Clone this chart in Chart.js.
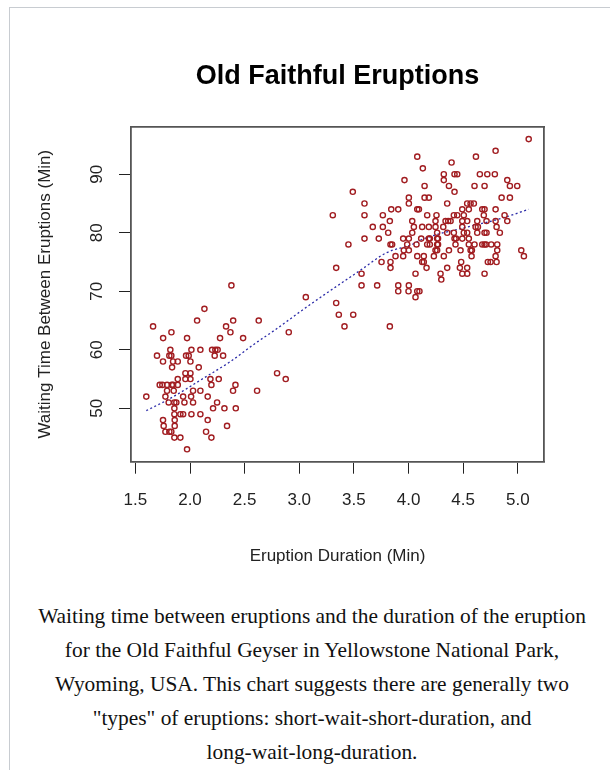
<!DOCTYPE html>
<html><head><meta charset="utf-8">
<script src="https://cdn.jsdelivr.net/npm/chart.js@4"></script>
<style>
html,body{margin:0;padding:0;background:#fff;overflow:hidden;width:610px;height:770px;}
#frame{position:absolute;left:9px;top:7px;width:700px;height:800px;border:1px solid #c8ccd1;box-sizing:border-box;}
#wrap{position:absolute;left:0;top:0;width:610px;height:590px;}
#caption{position:absolute;left:12px;width:600px;top:599px;font-family:"Liberation Serif","Times New Roman",serif;font-size:21.4px;line-height:34px;text-align:center;color:#111;}
</style></head>
<body>
<div id="frame"></div>
<div id="wrap"><canvas id="c" width="610" height="590"></canvas></div>
<div id="caption">Waiting time between eruptions and the duration of the eruption<br>for the Old Faithful Geyser in Yellowstone National Park,<br>Wyoming, USA. This chart suggests there are generally two<br>"types" of eruptions: short-wait-short-duration, and<br>long-wait-long-duration.</div>
<script>
// Eruption duration (min)
const eruptions = [
 1.973,
 1.857,1.912,2.196,
 1.775,1.811,1.829,2.147,
 1.759,1.86,2.339,
 1.753,1.86,2.162,
 1.857,1.912,1.937,2.013,2.095,
 1.857,2.211,2.315,2.419,
 1.805,1.857,1.875,1.949,2.028,2.248,
 1.6,1.775,1.937,2.01,2.162,
 1.79,1.851,2.028,2.095,2.394,2.614,
 1.723,1.747,1.79,1.833,1.845,1.888,2.196,2.416,
 1.888,1.958,2.004,2.187,2.263,2.876,
 1.958,2.004,2.797,
 1.836,2.08,
 1.753,1.845,1.888,2.004,
 1.698,1.811,1.829,1.964,1.988,2.226,2.303,
 1.82,2.013,2.095,2.202,2.232,2.253,
 1.754,1.973,2.275,2.486,
 1.83,2.37,2.904,
 1.662,2.33,3.414,3.829,
 2.065,2.395,2.629,
 3.362,3.494,
 2.132,
 3.338,
 3.06,4.064,
 3.906,4.0,4.08,4.1,
 2.379,3.57,3.713,3.906,4.003,
 4.3,
 3.57,4.064,4.293,4.492,4.537,4.696,
 3.338,3.835,4.165,4.354,4.47,4.537,
 3.753,3.835,4.125,4.14,4.482,4.726,4.751,4.806,
 3.881,3.951,4.08,4.14,4.232,4.323,4.577,4.797,5.056,
 3.957,4.003,4.247,4.262,4.37,4.476,4.568,4.58,4.812,5.032,
 3.45,3.835,3.85,3.988,4.073,4.171,4.195,4.262,4.27,4.43,4.552,4.604,4.675,4.696,4.71,4.757,4.812,
 3.597,3.728,3.951,4.003,4.116,4.186,4.195,4.262,4.27,4.421,4.435,4.492,4.552,
 3.814,4.034,4.262,4.354,4.415,4.506,4.537,4.629,4.696,4.714,4.836,
 3.673,3.765,4.049,4.125,4.186,4.247,4.318,4.492,4.614,4.635,4.806,
 3.829,4.034,4.247,4.339,4.363,4.385,4.492,4.537,4.629,4.714,4.797,4.904,
 3.307,3.597,3.765,4.171,4.256,4.415,4.446,4.506,4.689,4.879,
 3.842,3.906,4.08,4.095,4.492,4.552,4.675,4.696,4.797,
 3.597,4.003,4.354,4.537,4.568,4.598,
 4.003,4.147,4.186,4.852,4.928,
 3.49,4.421,
 4.147,4.37,4.604,4.696,4.928,4.995,
 3.963,4.323,4.904,
 4.323,4.421,4.446,4.653,4.721,4.79,
 4.131,
 4.394,
 4.08,4.617,
 4.797,
 5.1
];
// Waiting time (min), same order
const waiting = [
 43,
 45,45,45,
 46,46,46,46,
 47,47,47,
 48,48,48,
 49,49,49,49,49,
 50,50,50,50,
 51,51,51,51,51,51,
 52,52,52,52,52,
 53,53,53,53,53,53,
 54,54,54,54,54,54,54,54,
 55,55,55,55,55,55,
 56,56,56,
 57,57,
 58,58,58,58,
 59,59,59,59,59,59,59,
 60,60,60,60,60,60,
 62,62,62,62,
 63,63,63,
 64,64,64,64,
 65,65,65,
 66,66,
 67,
 68,
 69,69,
 70,70,70,70,
 71,71,71,71,71,
 72,
 73,73,73,73,73,73,
 74,74,74,74,74,74,
 75,75,75,75,75,75,75,75,
 76,76,76,76,76,76,76,76,76,
 77,77,77,77,77,77,77,77,77,77,
 78,78,78,78,78,78,78,78,78,78,78,78,78,78,78,78,78,
 79,79,79,79,79,79,79,79,79,79,79,79,79,
 80,80,80,80,80,80,80,80,80,80,80,
 81,81,81,81,81,81,81,81,81,81,81,
 82,82,82,82,82,82,82,82,82,82,82,82,
 83,83,83,83,83,83,83,83,83,83,
 84,84,84,84,84,84,84,84,84,
 85,85,85,85,85,85,
 86,86,86,86,86,
 87,87,
 88,88,88,88,88,88,
 89,89,89,
 90,90,90,90,90,90,
 91,
 92,
 93,93,
 94,
 96
];
// Smooth (lowess) trend line
const lowessX = [1.6, 1.82, 2.12, 2.37, 2.62, 2.74, 3.12, 3.56, 3.8, 4.02, 4.13, 4.54, 4.84, 5.1];
const lowessY = [49.6, 51.7, 55.1, 58.0, 61.4, 62.9, 68.0, 73.6, 76.6, 77.9, 78.9, 81.0, 82.4, 84.0];
// Axis ticks and limits
const xTicks = [1.5, 2.0, 2.5, 3.0, 3.5, 4.0, 4.5, 5.0];
const yTicks = [50, 60, 70, 80, 90];
const xLimits = [1.46, 5.24];
const yLimits = [40.88, 98.12];

const SANS = "'Liberation Sans', Arial, Helvetica, sans-serif";
const tickFont = {family: SANS, size: 17};
const boxBorder = {display: true, color: '#555', width: 1.8};

new Chart(document.getElementById('c'), {
  type: 'scatter',
  data: {
    datasets: [
      {
        data: eruptions.map((e, i) => ({x: e, y: waiting[i]})),
        pointStyle: 'circle',
        pointRadius: 2.6,
        pointHoverRadius: 2.6,
        pointBorderWidth: 1.4,
        borderColor: '#a11d21',
        backgroundColor: 'rgba(0,0,0,0)'
      },
      {
        type: 'line',
        data: lowessX.map((x, i) => ({x: x, y: lowessY[i]})),
        borderColor: '#2a2aa8',
        borderWidth: 1.3,
        borderDash: [2, 2.5],
        pointRadius: 0,
        fill: false,
        cubicInterpolationMode: 'monotone'
      }
    ]
  },
  options: {
    responsive: false,
    animation: false,
    events: [],
    layout: {padding: 0},
    plugins: {legend: {display: false}, tooltip: {enabled: false}},
    scales: {
      x: {
        type: 'linear', position: 'bottom', min: xLimits[0], max: xLimits[1],
        afterBuildTicks: s => { s.ticks = xTicks.map(v => ({value: v})); },
        afterFit: s => { s.height = 128.3; },
        grid: {drawOnChartArea: false, drawTicks: true, tickLength: 12, color: '#222', lineWidth: 1},
        border: boxBorder,
        ticks: {padding: 16.1, color: '#222', font: tickFont, autoSkip: false, maxRotation: 0, minRotation: 0,
                callback: v => Number(v).toFixed(1)},
        title: {display: true, text: 'Eruption Duration (Min)', color: '#222', font: tickFont, padding: {top: 0, bottom: 23.8}}
      },
      y: {
        type: 'linear', position: 'left', min: yLimits[0], max: yLimits[1],
        afterBuildTicks: s => { s.ticks = yTicks.map(v => ({value: v})); },
        afterFit: s => { s.width = 131; },
        grid: {drawOnChartArea: false, drawTicks: true, tickLength: 12, color: '#222', lineWidth: 1},
        border: boxBorder,
        ticks: {padding: 12.5, crossAlign: 'center', minRotation: 90, maxRotation: 90, color: '#222', font: tickFont, autoSkip: false,
                callback: v => String(v)},
        title: {display: true, text: 'Waiting Time Between Eruptions (Min)', color: '#222', font: tickFont, padding: {top: 34.8, bottom: 0}}
      },
      x2: {
        type: 'linear', position: 'top', min: 0, max: 1,
        afterFit: s => { s.height = 126.7; },
        grid: {display: false}, ticks: {display: false},
        border: boxBorder,
        title: {display: true, text: 'Old Faithful Eruptions', color: '#000',
                font: {family: SANS, size: 27, weight: 'bold'}, padding: {top: 60.8, bottom: 0}}
      },
      y2: {
        type: 'linear', position: 'right', min: 0, max: 1,
        afterFit: s => { s.width = 66; },
        grid: {display: false}, ticks: {display: false},
        border: boxBorder
      }
    }
  }
});
</script>
</body></html>
